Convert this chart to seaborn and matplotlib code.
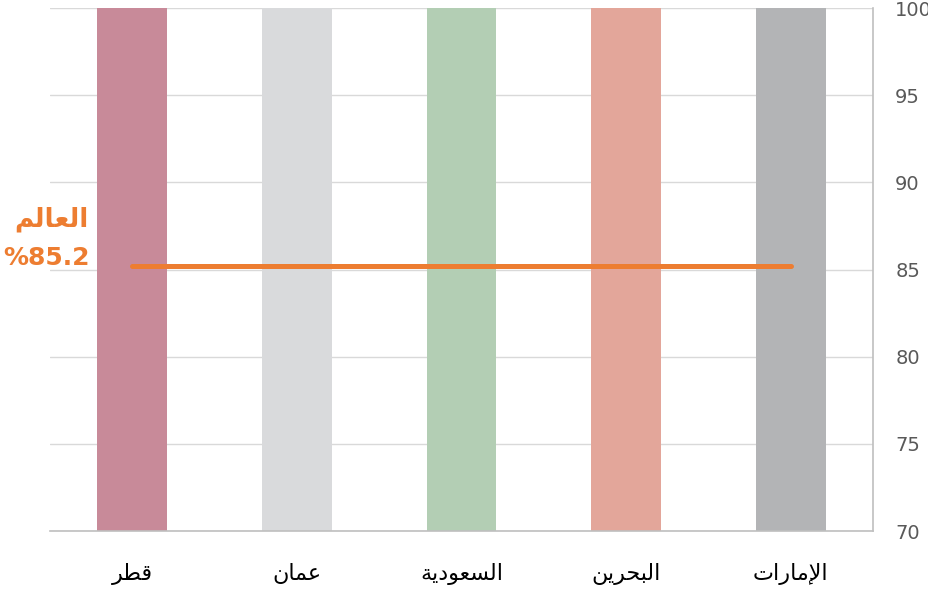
import matplotlib
matplotlib.use("Agg")
import matplotlib.pyplot as plt
import seaborn as sns
import pandas as pd

# data
categories = ['قطر', 'عمان', 'السعودية', 'البحرين', 'الإمارات']
values = [100, 100, 100, 100, 100]
bar_colors = ['#C88A99', '#D9DADC', '#B3CEB4', '#E3A69A', '#B3B4B6']
world_label = 'العالم'
world_value = 85.2
y_ticks = [70, 75, 80, 85, 90, 95, 100]

# minimal Arabic shaping (matplotlib has no shaping / bidi of its own)
FORMS = {
    'ا': (0xFE8D, 0xFE8E), 'إ': (0xFE87, 0xFE88),
    'ب': (0xFE8F, 0xFE90, 0xFE91, 0xFE92), 'ت': (0xFE95, 0xFE96, 0xFE97, 0xFE98),
    'ة': (0xFE93, 0xFE94), 'ح': (0xFEA1, 0xFEA2, 0xFEA3, 0xFEA4),
    'د': (0xFEA9, 0xFEAA), 'ر': (0xFEAD, 0xFEAE),
    'س': (0xFEB1, 0xFEB2, 0xFEB3, 0xFEB4), 'ط': (0xFEC1, 0xFEC2, 0xFEC3, 0xFEC4),
    'ع': (0xFEC9, 0xFECA, 0xFECB, 0xFECC), 'ق': (0xFED5, 0xFED6, 0xFED7, 0xFED8),
    'ل': (0xFEDD, 0xFEDE, 0xFEDF, 0xFEE0), 'م': (0xFEE1, 0xFEE2, 0xFEE3, 0xFEE4),
    'ن': (0xFEE5, 0xFEE6, 0xFEE7, 0xFEE8), 'و': (0xFEED, 0xFEEE),
    'ي': (0xFEF1, 0xFEF2, 0xFEF3, 0xFEF4),
    'لا': (0xFEFB, 0xFEFC), 'لإ': (0xFEF9, 0xFEFA),
}


def shape_ar(word):
    tokens = []
    i = 0
    while i < len(word):
        if word[i:i + 2] in FORMS:
            tokens.append(word[i:i + 2])
            i += 2
        else:
            tokens.append(word[i])
            i += 1
    out = []
    for k, t in enumerate(tokens):
        f = FORMS[t]
        prev_joins = k > 0 and len(FORMS[tokens[k - 1]]) == 4
        next_joins = len(f) == 4 and k < len(tokens) - 1
        if prev_joins and next_joins:
            c = f[3]
        elif prev_joins:
            c = f[1]
        elif next_joins:
            c = f[2]
        else:
            c = f[0]
        out.append(chr(c))
    return ''.join(reversed(out))


df = pd.DataFrame({'country': categories, 'value': values})

sns.set_style('white')
plt.rcParams['font.family'] = ['DejaVu Sans']

fig = plt.figure(figsize=(9.29, 5.91), dpi=100)
ax = fig.add_axes([50 / 929, 60 / 591, 823 / 929, 523 / 591])

sns.barplot(data=df, x='country', y='value', hue='country', palette=bar_colors,
            width=0.425, legend=False, ax=ax, saturation=1, linewidth=0)

ax.set_ylim(70, 100)
ax.set_xlim(-0.5, len(categories) - 0.5)
ax.set_yticks(y_ticks)
ax.yaxis.grid(True, color='#D9D9D9', linewidth=1)
ax.set_axisbelow(True)
ax.yaxis.tick_right()
ax.tick_params(axis='y', length=0, pad=16, labelsize=14, labelcolor='#595959')
ax.tick_params(axis='x', length=0, pad=23, labelsize=16, labelcolor='black')
ax.set_xticks(range(len(categories)))
ax.set_xticklabels([shape_ar(c) for c in categories])
ax.set_xlabel('')
ax.set_ylabel('')

for side in ['top', 'left']:
    ax.spines[side].set_visible(False)
for side in ['right', 'bottom']:
    ax.spines[side].set_color('#BFBFBF')
    ax.spines[side].set_linewidth(1.2)

# world average line across the bar centres
ax.plot([0, len(categories) - 1], [world_value, world_value], color='#ED7D31',
        linewidth=3.6, solid_capstyle='round', zorder=5)

fig.text(89 / 929, 1 - 219 / 591, shape_ar(world_label), ha='right', va='center',
         fontsize=19, fontweight='bold', color='#ED7D31')
fig.text(90 / 929, 1 - 258 / 591, '%' + str(world_value), ha='right', va='center',
         fontsize=18, fontweight='bold', color='#ED7D31')

fig.savefig('out.png', dpi=100)
